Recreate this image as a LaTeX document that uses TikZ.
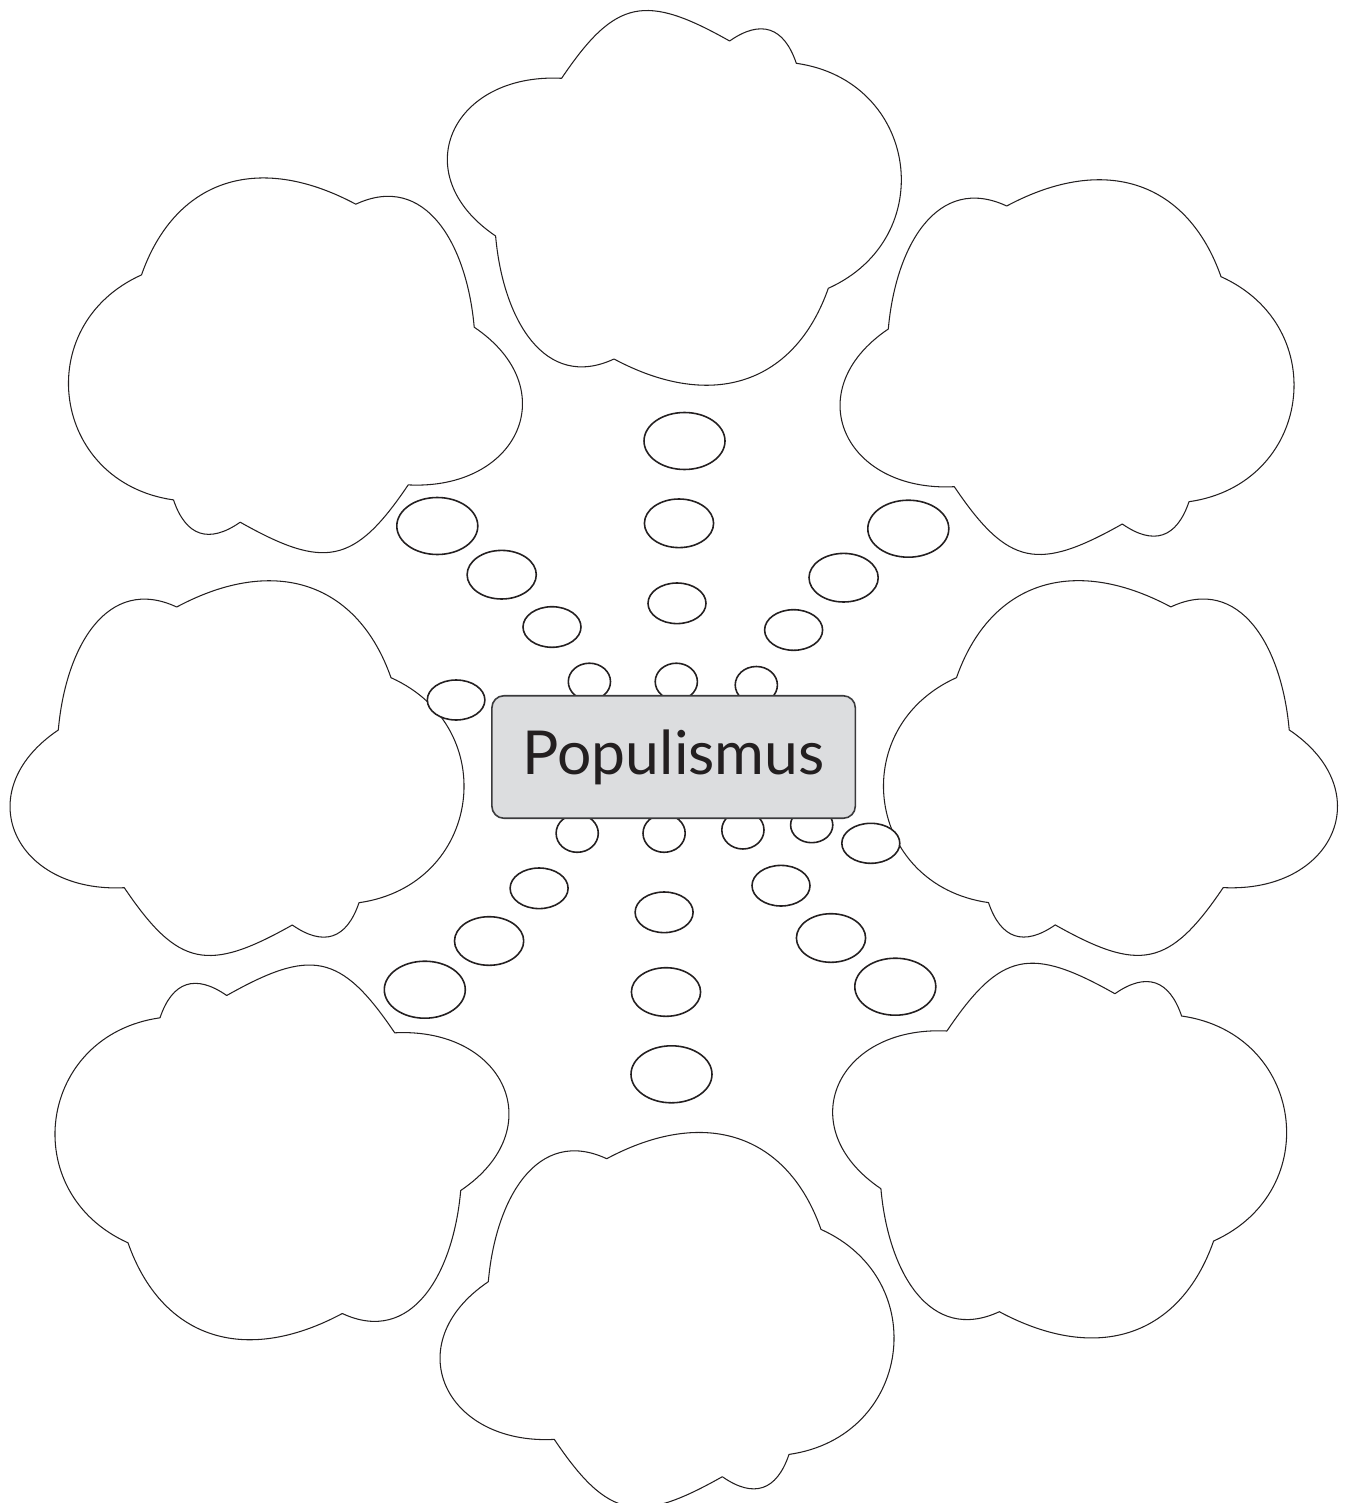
\documentclass[tikz,border=0pt]{standalone}
\usepackage{fontspec}
\newfontfamily\handfont{Lato}
\definecolor{ink}{HTML}{231F20}
\definecolor{boxgrey}{HTML}{DCDDDF}
\definecolor{boxline}{HTML}{3A3A3C}

\tikzset{
  cloud/.pic={
    \draw[cloudline] (-178,-36.5)
      .. controls +(7.3,-83.3) and +(-69.3,-32.3) .. (-59.6,-159.5)
      .. controls +(99.7,-53.3) and +(-33,-94) .. (154.7,-88.8)
      .. controls +(112.2,50.6) and +(122.1,-17.3) .. (122.7,136.2)
      .. controls +(-12.3,36.4) and +(31.4,21.9) .. (56,158.5)
      .. controls +(-84.1,47.4) and +(54.1,80.2) .. (-112,121.2)
      .. controls +(-110,5.5) and +(-91.3,61.6) .. (-178,-36.5) -- cycle;
  }
}

\begin{document}
\begin{tikzpicture}[x=0.02cm, y=-0.02cm, line join=round,
  cloudline/.style={draw=ink, fill=white, line width=0.6pt},
  bubble/.style={draw=ink, fill=white, line width=0.9pt},
  popbox/.style={draw=boxline, fill=boxgrey, line width=0.9pt, rounded corners=0.24cm,
    minimum width=7.27cm, minimum height=2.45cm, inner sep=0pt,
    font=\handfont\fontsize{34.5}{40}\selectfont, text=ink}]
  \useasboundingbox (0,0) rectangle (1347,1503);

  % clouds
  \pic at (1066.3,365.5) {cloud};
  \pic at (236.3,766.5) {cloud};
  \pic at (666.3,1318.2) {cloud};
  \pic[xscale=-1] at (296.2,363.7) {cloud};
  \pic[xscale=-1] at (1111.2,766.4) {cloud};
  \pic[yscale=-1] at (673.6,199.5) {cloud};
  \pic[yscale=-1] at (1058.9,1152.2) {cloud};
  \pic[rotate=180] at (282.7,1154) {cloud};

  % thought bubbles
  \foreach \x/\y/\rx/\ry in {
      684.5/441/40.5/28.5, 679/523.3/34.6/24.3, 677/603.3/29/20.3, 676.3/681.7/21.1/18.5,
      437.3/526/40.5/28.5, 501.7/574.7/34.6/24.3, 552/627/29/20.3, 589.4/681.7/21.1/18.5,
      908.3/528.7/40.5/28.5, 843.6/577.7/34.6/24.3, 793.6/630/29/20.3, 756.3/685/21.1/18.5,
      456.1/700/28.8/20, 870.8/843.3/29/20,
      577.2/833.3/21.1/19, 664.1/833.3/21.1/19, 742.9/830/21.1/19, 811.7/825/21.1/17.7,
      539.1/888.3/29/20.3, 489.1/941/34.6/24.3, 424.8/989.7/40.5/28.5,
      664.1/912.3/29/20.3, 666/992/34.6/24.3, 671.5/1074.3/40.5/28.5,
      781/885.7/29/20.3, 831/938/34.6/24.3, 895.3/986.7/40.5/28.5}
    \draw[bubble] (\x,\y) ellipse [x radius=\rx, y radius=\ry];

  \node[popbox] (pop) at (673.6,757) {Populismus};
\end{tikzpicture}
\end{document}
